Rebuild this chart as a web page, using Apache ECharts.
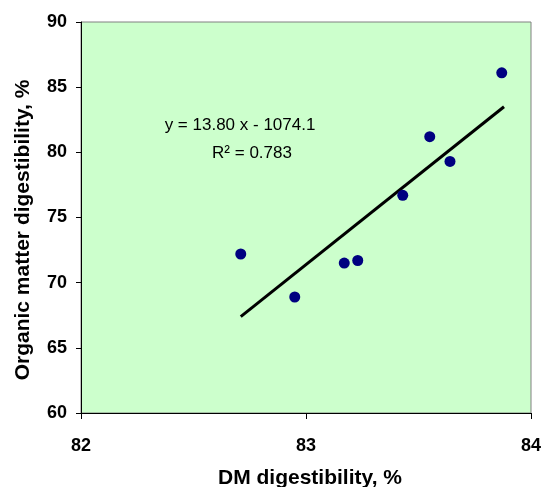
<!DOCTYPE html>
<html>
<head>
<meta charset="utf-8">
<script src="https://cdn.jsdelivr.net/npm/echarts@6/dist/echarts.min.js"></script>
<style>html,body{margin:0;padding:0;background:#fff}#c{width:545px;height:487px}</style>
</head>
<body>
<div id="c"></div>
<script>
var dmDigestibility = [82.71, 82.95, 83.17, 83.23, 83.43, 83.55, 83.64, 83.87];
var omDigestibility = [72.2, 68.9, 71.5, 71.7, 76.7, 81.2, 79.3, 86.1];
var trendX = [82.71, 83.88];
var trendY = [67.4, 83.5];
var xTicks = [82, 83, 84];
var yTicks = [60, 65, 70, 75, 80, 85, 90];
var xTitle = 'DM digestibility, %';
var yTitle = 'Organic matter digestibility, %';
var equationText = 'y = 13.80 x - 1074.1';
var r2Text = 'R² = 0.783';

var chart = echarts.init(document.getElementById('c'), null, {renderer: 'canvas'});
var font = 'Liberation Sans, Arial, sans-serif';
chart.setOption({
  animation: false,
  backgroundColor: '#ffffff',
  grid: {left: 81, right: 14, top: 22, bottom: 74, show: true, backgroundColor: '#CCFFCC', borderColor: '#808080', borderWidth: 1},
  xAxis: {
    type: 'value', min: xTicks[0], max: xTicks[xTicks.length-1], interval: 1,
    axisLine: {show: true, lineStyle: {color: '#000', width: 1}},
    axisTick: {show: true, inside: false, length: 6, lineStyle: {color: '#000'}},
    axisLabel: {fontFamily: font, fontWeight: 'bold', fontSize: 18, color: '#000', margin: 24},
    splitLine: {show: false}
  },
  yAxis: {
    type: 'value', min: yTicks[0], max: yTicks[yTicks.length-1], interval: 5,
    axisLine: {show: true, lineStyle: {color: '#000', width: 1}},
    axisTick: {show: true, inside: false, length: 5, lineStyle: {color: '#000'}},
    axisLabel: {fontFamily: font, fontWeight: 'bold', fontSize: 18, color: '#000', margin: 14},
    splitLine: {show: false}
  },
  series: [
    {
      type: 'line',
      data: trendX.map(function(x, i){ return [x, trendY[i]]; }),
      showSymbol: false, symbol: 'none',
      lineStyle: {color: '#000', width: 3},
      z: 2
    },
    {
      type: 'scatter',
      data: dmDigestibility.map(function(x, i){ return [x, omDigestibility[i]]; }),
      symbol: 'circle', symbolSize: 11,
      itemStyle: {color: '#000080', opacity: 1},
      z: 3
    }
  ],
  graphic: [
    {type: 'text', x: 240, y: 125, style: {text: equationText, font: '17px ' + font, fill: '#000', textAlign: 'center', textVerticalAlign: 'middle'}},
    {type: 'text', x: 252, y: 153, style: {text: r2Text, font: '17px ' + font, fill: '#000', textAlign: 'center', textVerticalAlign: 'middle'}},
    {type: 'text', x: 310, y: 478, style: {text: xTitle, font: 'bold 21px ' + font, fill: '#000', textAlign: 'center', textVerticalAlign: 'middle'}},
    {type: 'text', x: 23, y: 230, rotation: Math.PI / 2, style: {text: yTitle, font: 'bold 21px ' + font, fill: '#000', textAlign: 'center', textVerticalAlign: 'middle'}}
  ]
});
</script>
</body>
</html>
